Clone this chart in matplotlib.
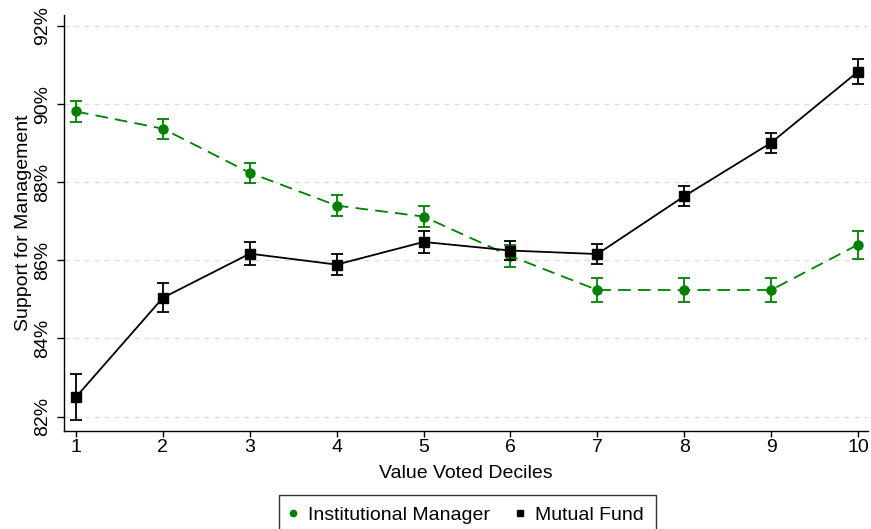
import matplotlib
matplotlib.use("Agg")
import matplotlib.pyplot as plt
from matplotlib.lines import Line2D

plt.rcParams['font.family'] = ['Liberation Sans', 'DejaVu Sans']

deciles = [1, 2, 3, 4, 5, 6, 7, 8, 9, 10]
inst_mean = [89.81, 89.37, 88.24, 87.40, 87.12, 86.11, 85.24, 85.24, 85.24, 86.40]
inst_err = [0.27, 0.26, 0.26, 0.26, 0.27, 0.28, 0.30, 0.30, 0.30, 0.36]
mf_mean = [82.50, 85.04, 86.17, 85.89, 86.47, 86.25, 86.16, 87.64, 89.01, 90.83]
mf_err = [0.60, 0.37, 0.30, 0.26, 0.29, 0.25, 0.25, 0.25, 0.26, 0.32]
yticks = [82, 84, 86, 88, 90, 92]
ytick_labels = ['82%', '84%', '86%', '88%', '90%', '92%']

green = '#008000'

fig = plt.figure(figsize=(8.71, 5.29), dpi=100)
ax = fig.add_axes([64/871, 1-431/529, (868-64)/871, (431-15)/529])

for y in yticks:
    ax.axhline(y, color='#dcdcdc', lw=0.9, ls=(0, (4, 4)), zorder=0)

ax.errorbar(deciles, inst_mean, yerr=inst_err, color=green, marker='o', ms=6.5,
            ls=(0, (7, 4)), lw=1.3, capsize=4, capthick=1.3, elinewidth=1.3, zorder=3)
ax.errorbar(deciles, mf_mean, yerr=mf_err, color='black', marker='s', ms=6.5,
            ls='-', lw=1.3, capsize=4, capthick=1.3, elinewidth=1.3, zorder=4)

ax.set_xlim(0.862, 10.115)
ax.set_ylim(81.63, 92.28)
ax.set_xticks(deciles)
ax.set_xticklabels([str(d) for d in deciles], fontsize=14)
ax.set_yticks(yticks)
ax.set_yticklabels(ytick_labels, fontsize=14, rotation=90, va='center')
ax.tick_params(axis='x', length=4, width=1, color='black', pad=1.5)
ax.tick_params(axis='y', length=5, width=1, color='black', pad=4)
ax.spines['top'].set_visible(False)
ax.spines['right'].set_visible(False)
ax.spines['left'].set_linewidth(1)
ax.spines['bottom'].set_linewidth(1)

ax.set_xlabel('Value Voted Deciles', fontsize=14, labelpad=7)
ax.set_ylabel('Support for Management', fontsize=14, labelpad=2)

handles = [Line2D([], [], color=green, marker='o', ls='none', ms=4.5),
           Line2D([], [], color='black', marker='s', ls='none', ms=5)]
leg = fig.legend(handles, ['Institutional Manager', 'Mutual Fund'],
                 loc='upper center', bbox_to_anchor=(467.5/871, 1-495/529),
                 ncol=2, fontsize=14, frameon=True, fancybox=False,
                 edgecolor='black', handlelength=0.2, handletextpad=0.67,
                 columnspacing=1.45, borderpad=0.6, borderaxespad=0)
leg.get_frame().set_linewidth(1)

fig.savefig('out.png', dpi=100)
